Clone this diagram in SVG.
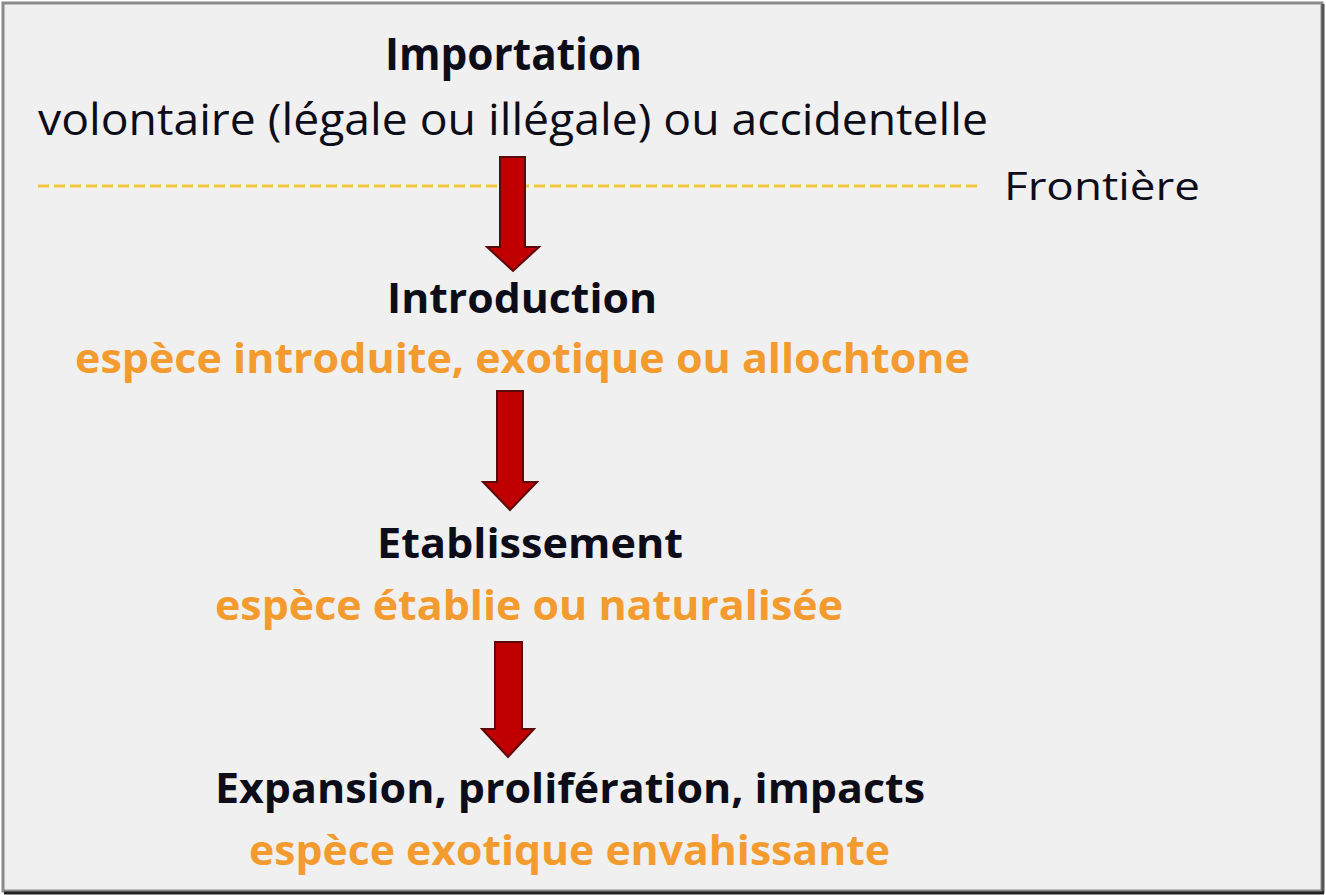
<svg xmlns="http://www.w3.org/2000/svg" width="1326" height="895" viewBox="0 0 1326 895">
<style>
.t{font-family:"Open Sans","Liberation Sans",sans-serif;text-anchor:start}
.b{font-weight:bold;fill:#0d0d1a}
.n{font-weight:normal;fill:#0d0d1a}
.o{font-weight:bold;fill:#f39b2e}
.arrow{fill:#c00000;stroke:#5a0a0a;stroke-width:2;stroke-linejoin:miter}
</style>
<rect x="0" y="0" width="1326" height="895" fill="#ffffff"/>
<rect x="3" y="3" width="1319" height="888" fill="#f0f0f0" stroke="#8a8a8a" stroke-width="3"/>
<line x1="1323" y1="4" x2="1323" y2="893" stroke="#555" stroke-width="3"/>
<line x1="4" y1="893" x2="1324" y2="893" stroke="#222" stroke-width="3"/>
<g id="frontiere">
<line x1="38" y1="186" x2="982" y2="186" stroke="#f5c542" stroke-width="3" stroke-dasharray="11,5"/>
<text class="t n" x="1004" y="200" font-size="39" textLength="196" lengthAdjust="spacingAndGlyphs">Frontière</text>
</g>
<g id="importation">
<text class="t b" x="385" y="70" font-size="44" textLength="257" lengthAdjust="spacingAndGlyphs">Importation</text>
<text class="t n" x="38" y="135" font-size="44" textLength="950" lengthAdjust="spacingAndGlyphs">volontaire (légale ou illégale) ou accidentelle</text>
</g>
<g id="introduction">
<text class="t b" x="387" y="313" font-size="42" textLength="270" lengthAdjust="spacingAndGlyphs">Introduction</text>
<text class="t o" x="75" y="373" font-size="41" textLength="895" lengthAdjust="spacingAndGlyphs">espèce introduite, exotique ou allochtone</text>
</g>
<g id="etablissement">
<text class="t b" x="377" y="558" font-size="42" textLength="306" lengthAdjust="spacingAndGlyphs">Etablissement</text>
<text class="t o" x="215" y="620" font-size="41" textLength="628" lengthAdjust="spacingAndGlyphs">espèce établie ou naturalisée</text>
</g>
<g id="expansion">
<text class="t b" x="215" y="803" font-size="42" textLength="710" lengthAdjust="spacingAndGlyphs">Expansion, prolifération, impacts</text>
<text class="t o" x="249" y="865" font-size="41" textLength="641" lengthAdjust="spacingAndGlyphs">espèce exotique envahissante</text>
</g>
<g id="connectors">
<polygon class="arrow" points="500,157 525,157 525,247 539,247 513,271 487,247 500,247"/>
<polygon class="arrow" points="497,391 523,391 523,482 537,482 510,510 483,482 497,482"/>
<polygon class="arrow" points="495,642 522,642 522,729 534,729 508,757 482,729 495,729"/>
</g>
</svg>
